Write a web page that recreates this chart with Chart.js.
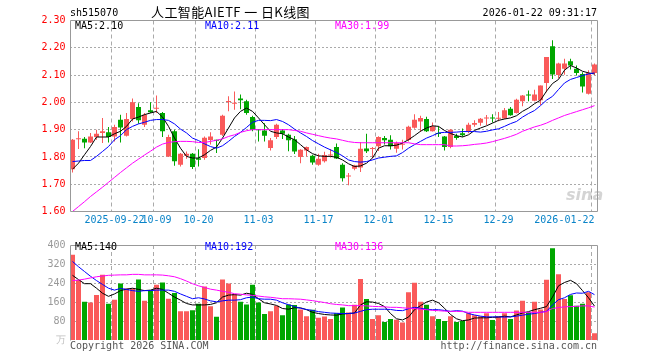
<!DOCTYPE html>
<html>
<head>
<meta charset="utf-8">
<script src="https://cdn.jsdelivr.net/npm/chart.js@4.4.1/dist/chart.umd.min.js"></script>
<style>
  body { margin: 0; background: #fff; }
  #wrap { position: relative; width: 660px; height: 360px; overflow: hidden;
          font-family: "DejaVu Sans Mono", monospace; font-size: 10px; line-height: 10px; }
  #wrap canvas { position: absolute; left: 0; }
  .t { position: absolute; white-space: pre; }
</style>
</head>
<body>
<div id="wrap">
  <canvas id="kline" width="660" height="232" style="top:0"></canvas>
  <canvas id="vol" width="660" height="125" style="top:235px"></canvas>

  <div class="t" style="left:70px;top:8px;color:#000">sh515070</div>
  <div class="t" style="left:151px;top:4px;font-family:'Noto Sans CJK SC';font-size:13px;letter-spacing:0.4px;line-height:15px;color:#000">人工智能AIETF 一 日K线图</div>
  <div class="t" style="right:63px;top:8px;color:#000">2026-01-22 09:31:17</div>

  <div class="t" style="left:75px;top:21px;color:#000">MA5:2.10</div>
  <div class="t" style="left:205px;top:21px;color:#0000ff">MA10:2.11</div>
  <div class="t" style="left:335px;top:21px;color:#ff00ff">MA30:1.99</div>

  <div class="t" style="left:75px;top:241.5px;color:#000">MA5:140</div>
  <div class="t" style="left:205px;top:241.5px;color:#0000ff">MA10:192</div>
  <div class="t" style="left:335px;top:241.5px;color:#ff00ff">MA30:136</div>

  <div class="t" style="left:566px;top:186px;font-family:'DejaVu Sans';font-weight:bold;font-style:italic;font-size:16px;line-height:18px;color:rgba(160,160,160,0.45)">sina</div>

  <div class="t" style="left:70px;top:340.5px;color:#555">Copyright 2026 SINA.COM</div>
  <div class="t" style="right:63px;top:340.5px;color:#555">http://finance.sina.com.cn</div>
</div>

<script>
// trading days shown on the chart
var dates = [
  '2025-09-11','2025-09-12','2025-09-15','2025-09-16','2025-09-17','2025-09-18','2025-09-19',
  '2025-09-22','2025-09-23','2025-09-24','2025-09-25','2025-09-26','2025-09-29','2025-09-30',
  '2025-10-09','2025-10-10','2025-10-13','2025-10-14','2025-10-15','2025-10-16','2025-10-17',
  '2025-10-20','2025-10-21','2025-10-22','2025-10-23','2025-10-24',
  '2025-10-27','2025-10-28','2025-10-29','2025-10-30','2025-10-31',
  '2025-11-03','2025-11-04','2025-11-05','2025-11-06','2025-11-07',
  '2025-11-10','2025-11-11','2025-11-12','2025-11-13','2025-11-14',
  '2025-11-17','2025-11-18','2025-11-19','2025-11-20','2025-11-21',
  '2025-11-24','2025-11-25','2025-11-26','2025-11-27','2025-11-28',
  '2025-12-01','2025-12-02','2025-12-03','2025-12-04','2025-12-05',
  '2025-12-08','2025-12-09','2025-12-10','2025-12-11','2025-12-12',
  '2025-12-15','2025-12-16','2025-12-17','2025-12-18','2025-12-19',
  '2025-12-22','2025-12-23','2025-12-24','2025-12-25','2025-12-26',
  '2025-12-29','2025-12-30','2025-12-31',
  '2026-01-05','2026-01-06','2026-01-07','2026-01-08','2026-01-09',
  '2026-01-12','2026-01-13','2026-01-14','2026-01-15','2026-01-16',
  '2026-01-19','2026-01-20','2026-01-21','2026-01-22'
];

var opens = [1.755,1.865,1.867,1.853,1.873,1.888,1.890,1.875,1.936,1.878,
  1.939,1.983,1.918,1.971,1.977,1.961,1.802,1.894,1.771,1.804,
  1.812,1.795,1.796,1.862,1.862,1.881,2.001,1.995,2.014,2.004,
  1.946,1.900,1.897,1.833,1.873,1.897,1.881,1.865,1.800,1.824,
  1.804,1.771,1.784,1.805,1.836,1.771,1.728,1.757,1.761,1.831,
  1.829,1.839,1.869,1.863,1.830,1.845,1.862,1.907,1.930,1.939,
  1.894,1.887,1.875,1.836,1.877,1.887,1.894,1.918,1.925,1.941,
  1.944,1.940,1.941,1.977,1.961,2.004,2.029,2.006,2.008,2.071,
  2.206,2.100,2.123,2.151,2.123,2.104,2.032,2.108];
var highs = [1.866,1.894,1.873,1.888,1.900,1.943,1.910,1.918,1.955,1.961,
  2.014,1.997,1.961,2.000,2.025,1.965,1.881,1.900,1.814,1.820,
  1.814,1.828,1.875,1.890,1.863,1.955,2.022,2.040,2.029,2.010,
  1.951,1.901,1.923,1.869,1.922,1.902,1.885,1.877,1.828,1.838,
  1.808,1.812,1.819,1.829,1.849,1.777,1.741,1.771,1.855,1.885,
  1.836,1.876,1.877,1.879,1.857,1.863,1.914,1.956,1.951,1.947,
  1.926,1.912,1.877,1.902,1.885,1.904,1.925,1.934,1.943,1.954,
  1.956,1.965,1.979,1.983,2.013,2.027,2.043,2.046,2.062,2.166,
  2.228,2.145,2.160,2.160,2.135,2.110,2.118,2.142];
var lows = [1.743,1.829,1.832,1.851,1.863,1.851,1.853,1.857,1.853,1.875,
  1.930,1.922,1.910,1.961,1.961,1.873,1.800,1.768,1.765,1.793,
  1.756,1.765,1.790,1.846,1.814,1.877,1.967,1.973,1.975,1.955,
  1.894,1.857,1.857,1.824,1.866,1.866,1.821,1.811,1.777,1.802,
  1.771,1.768,1.780,1.798,1.792,1.710,1.696,1.751,1.745,1.814,
  1.795,1.822,1.846,1.827,1.815,1.827,1.857,1.903,1.891,1.891,
  1.893,1.873,1.824,1.832,1.863,1.874,1.887,1.911,1.914,1.917,
  1.926,1.931,1.939,1.951,1.959,1.986,2.004,2.004,1.990,2.037,
  2.086,2.088,2.101,2.120,2.098,2.036,2.029,2.100];
var closes = [1.863,1.868,1.853,1.875,1.885,1.894,1.873,1.910,1.908,1.939,
  2.000,1.934,1.955,1.964,1.980,1.894,1.873,1.784,1.812,1.812,
  1.763,1.790,1.870,1.875,1.859,1.951,2.004,1.998,2.008,1.961,
  1.900,1.898,1.878,1.861,1.918,1.885,1.861,1.820,1.826,1.836,
  1.780,1.793,1.807,1.807,1.794,1.722,1.732,1.769,1.830,1.821,
  1.832,1.873,1.861,1.839,1.851,1.848,1.911,1.936,1.943,1.894,
  1.912,1.884,1.836,1.900,1.869,1.879,1.918,1.924,1.940,1.944,
  1.941,1.944,1.971,1.953,2.010,2.025,2.025,2.029,2.062,2.166,
  2.102,2.142,2.142,2.135,2.108,2.058,2.108,2.139];

var ma5 = [1.755,1.777,1.808,1.838,1.873,1.873,1.873,1.885,1.894,1.912,
  1.939,1.946,1.955,1.961,1.967,1.946,1.912,1.869,1.832,1.802,
  1.796,1.796,1.808,1.824,1.836,1.869,1.906,1.943,1.967,1.979,
  1.967,1.943,1.918,1.894,1.888,1.885,1.873,1.863,1.845,1.826,
  1.812,1.804,1.802,1.802,1.799,1.789,1.775,1.765,1.767,1.777,
  1.796,1.832,1.841,1.841,1.843,1.851,1.863,1.878,1.894,1.906,
  1.914,1.912,1.897,1.886,1.878,1.873,1.881,1.897,1.906,1.914,
  1.924,1.934,1.939,1.943,1.951,1.967,1.979,1.995,2.008,2.041,
  2.069,2.084,2.118,2.135,2.126,2.114,2.108,2.104];
var ma10 = [1.783,1.785,1.787,1.787,1.802,1.820,1.838,1.863,1.878,1.900,
  1.912,1.921,1.927,1.934,1.937,1.937,1.934,1.921,1.902,1.888,
  1.869,1.860,1.848,1.838,1.832,1.841,1.857,1.875,1.890,1.908,
  1.927,1.934,1.934,1.933,1.937,1.930,1.918,1.902,1.888,1.875,
  1.860,1.848,1.836,1.826,1.816,1.804,1.789,1.783,1.781,1.783,
  1.789,1.796,1.799,1.802,1.804,1.816,1.832,1.845,1.857,1.869,
  1.878,1.888,1.890,1.890,1.891,1.893,1.893,1.893,1.891,1.894,
  1.899,1.903,1.912,1.922,1.930,1.946,1.959,1.970,1.988,2.008,
  2.022,2.047,2.071,2.084,2.091,2.098,2.104,2.108];
var ma30 = [1.600,1.618,1.636,1.655,1.672,1.689,1.707,1.725,1.743,1.760,
  1.777,1.792,1.807,1.821,1.836,1.847,1.853,1.856,1.857,1.857,
  1.856,1.853,1.853,1.857,1.861,1.866,1.875,1.881,1.890,1.896,
  1.900,1.900,1.900,1.900,1.900,1.900,1.900,1.897,1.894,1.888,
  1.883,1.878,1.873,1.869,1.866,1.861,1.856,1.853,1.852,1.852,
  1.852,1.852,1.852,1.852,1.852,1.852,1.852,1.848,1.845,1.845,
  1.845,1.845,1.845,1.840,1.840,1.841,1.843,1.846,1.848,1.851,
  1.856,1.862,1.868,1.875,1.883,1.894,1.902,1.910,1.916,1.924,
  1.934,1.943,1.952,1.959,1.966,1.973,1.980,1.988];

var volumes = [359,253,162,159,191,275,154,171,239,218,
  218,255,167,209,234,243,175,199,122,122,
  127,154,226,143,99,255,239,195,162,151,
  234,159,111,122,146,106,151,149,130,102,
  129,95,101,90,114,138,117,150,258,174,
  90,106,78,90,87,75,202,242,162,150,
  102,90,82,102,78,82,114,106,102,114,
  86,102,114,90,126,166,118,162,130,254,
  386,278,174,190,146,154,202,30];
var volMa5 = [273,255,238,238,219,198,185,195,209,215,
  219,214,209,211,219,214,198,182,169,155,
  149,149,149,151,158,182,190,192,190,198,
  193,175,158,153,147,134,131,137,137,129,
  118,113,109,107,106,111,113,115,149,162,
  161,155,142,113,91,86,98,129,146,161,
  169,158,135,109,91,83,86,94,95,95,
  97,98,102,99,107,115,121,129,135,142,
  182,229,243,252,238,209,179,144];
var volMa10 = [331,309,289,269,251,235,219,211,218,214,
  209,206,209,209,211,211,211,206,195,185,
  175,179,174,166,162,166,169,169,171,179,
  182,175,173,173,169,158,150,142,135,130,
  126,121,118,115,114,113,113,115,122,129,
  131,131,131,130,126,125,133,139,135,131,
  129,129,126,122,125,123,113,107,102,99,
  99,99,98,99,102,106,110,113,118,122,
  149,171,179,193,199,198,206,192];
var volMa30 = [251,253,257,262,267,270,273,274,275,275,
  277,277,275,275,275,274,271,267,259,249,
  238,229,222,215,211,206,202,196,194,191,
  189,186,183,181,178,175,175,174,173,170,
  167,163,159,154,151,149,146,146,146,145,
  143,142,141,139,139,137,135,134,131,129,
  126,125,123,122,122,121,118,118,118,118,
  118,118,118,118,118,118,118,118,118,121,
  134,138,141,142,143,145,145,140];

var tickDates  = ['2025-09-22','2025-10-09','2025-10-20','2025-11-03','2025-11-17',
                  '2025-12-01','2025-12-15','2025-12-29','2026-01-22'];
var tickLabels = ['2025-09-22','10-09','10-20','11-03','11-17','12-01','12-15','12-29','2026-01-22'];
var priceTicks = [1.60,1.70,1.80,1.90,2.00,2.10,2.20,2.30];
var volTicks   = [0,80,160,240,320,400];
var volUnit    = '万';

var upColor = '#fa5a5a';
var downColor = '#00a600';
var gridColor = '#aaaaaa';
var frameColor = '#999999';
var monoFont = { family: 'DejaVu Sans Mono', size: 10 };

var candleColors = closes.map(function (c, i) { return c >= opens[i] ? upColor : downColor; });

var tickText = {};
tickDates.forEach(function (d, i) { tickText[d] = tickLabels[i]; });

function dateGridColor(c) {
  return (c.tick && tickText[dates[c.tick.value]]) ? gridColor : 'rgba(0,0,0,0)';
}

// box around the plot area
var framePlugin = {
  id: 'frame',
  afterDraw: function (chart, args, opts) {
    var a = chart.chartArea, ctx = chart.ctx;
    var l = Math.ceil(a.left) + 0.5, r = Math.floor(a.right) + 0.5;
    var t = Math.floor(a.top) + 0.5, b = Math.floor(a.bottom) + 0.5;
    ctx.save();
    ctx.strokeStyle = frameColor;
    ctx.lineWidth = 1;
    ctx.beginPath();
    ctx.moveTo(l, b); ctx.lineTo(l, t); ctx.lineTo(r, t); ctx.lineTo(r, b);
    if (opts.bottom) ctx.lineTo(l, b);
    ctx.stroke();
    ctx.restore();
  }
};

function maLine(data, color) {
  return {
    type: 'line', data: data, borderColor: color, borderWidth: 1,
    pointRadius: 0, tension: 0, fill: false, order: 0
  };
}

function xScale(showLabels, height) {
  return {
    type: 'category',
    offset: true,
    grid: { offset: true, drawTicks: false, lineWidth: 1, color: dateGridColor },
    border: { display: false, dash: [4, 3] },
    ticks: {
      display: showLabels, autoSkip: false, maxRotation: 0, minRotation: 0,
      padding: 3, color: '#0a84c8', font: monoFont,
      callback: function (v) {
        var lbl = tickText[dates[v]] || '';
        // the last label sits to the left of its line
        return (v === dates.length - 1 && lbl) ? lbl + ' '.repeat(lbl.length) : lbl;
      }
    },
    afterFit: function (s) { s.height = height; }
  };
}

function yScale(ticksArr, color, fmt) {
  var lo = ticksArr[0], hi = ticksArr[ticksArr.length - 1];
  return {
    min: lo, max: hi,
    afterBuildTicks: function (s) { s.ticks = ticksArr.map(function (v) { return { value: v }; }); },
    afterFit: function (s) { s.width = 69.5; },
    grid: {
      drawTicks: false, lineWidth: 1,
      color: function (c) { return (c.tick && c.tick.value > lo && c.tick.value < hi) ? gridColor : 'rgba(0,0,0,0)'; }
    },
    border: { display: false, dash: [2, 2] },
    ticks: { padding: 4, color: color, font: monoFont, callback: fmt }
  };
}

Chart.defaults.font.family = 'DejaVu Sans Mono';
Chart.defaults.font.size = 10;

new Chart(document.getElementById('kline'), {
  type: 'bar',
  data: {
    labels: dates,
    datasets: [
      { type: 'bar', data: lows.map(function (l, i) { return [l, highs[i]]; }),
        backgroundColor: candleColors, barThickness: 1, grouped: false,
        inflateAmount: 0, borderWidth: 0, order: 3 },
      { type: 'bar', data: opens.map(function (o, i) { return [o, closes[i]]; }),
        backgroundColor: candleColors, barThickness: 5, minBarLength: 1, grouped: false,
        inflateAmount: 0, borderWidth: 0, order: 2 },
      maLine(ma30, '#ff00ff'),
      maLine(ma10, '#0000ff'),
      maLine(ma5, '#000000')
    ]
  },
  options: {
    responsive: false,
    animation: false,
    devicePixelRatio: 1,
    events: [],
    layout: { padding: { top: 20.5, right: 62.5, left: 0, bottom: 0 } },
    plugins: { legend: { display: false }, tooltip: { enabled: false }, frame: { bottom: true } },
    scales: {
      x: xScale(true, 20.5),
      y: yScale(priceTicks, '#ff0000', function (v) { return v.toFixed(2); })
    }
  },
  plugins: [framePlugin]
});

var volY = yScale(volTicks, '#999999', function (v) { return v === 0 ? volUnit : String(v); });
volY.ticks.color = function (c) { return c.tick && c.tick.value === 0 ? '#c0c0c0' : '#999999'; };

new Chart(document.getElementById('vol'), {
  type: 'bar',
  data: {
    labels: dates,
    datasets: [
      { type: 'bar', data: volumes, backgroundColor: candleColors, barThickness: 5,
        inflateAmount: 0, borderWidth: 0, order: 2 },
      maLine(volMa30, '#ff00ff'),
      maLine(volMa10, '#0000ff'),
      maLine(volMa5, '#000000')
    ]
  },
  options: {
    responsive: false,
    animation: false,
    devicePixelRatio: 1,
    events: [],
    layout: { padding: { top: 5.5, right: 62.5, left: 0, bottom: 19.5 } },
    plugins: { legend: { display: false }, tooltip: { enabled: false }, frame: { bottom: false } },
    scales: {
      x: xScale(false, 0),
      y: volY
    }
  },
  plugins: [framePlugin]
});
</script>
</body>
</html>
